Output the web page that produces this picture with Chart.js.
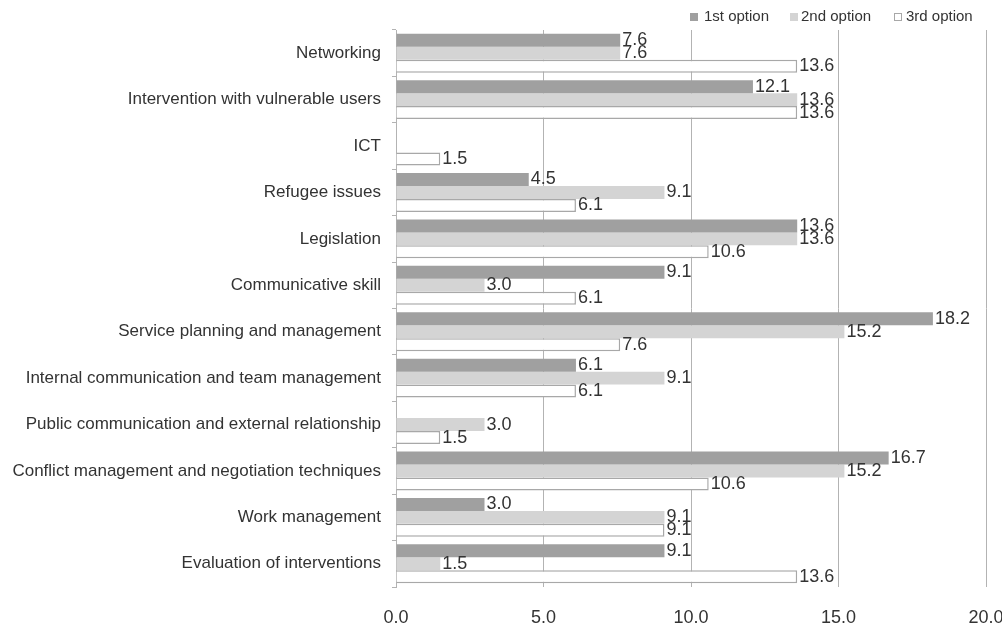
<!DOCTYPE html>
<html>
<head>
<meta charset="utf-8">
<script src="https://cdn.jsdelivr.net/npm/chart.js@4/dist/chart.umd.min.js"></script>
<style>
  html, body { margin: 0; padding: 0; background: #fff; }
  #wrap { width: 1002px; height: 626px; position: relative; }
</style>
</head>
<body>
<div id="wrap"><canvas id="c" width="1002" height="626"></canvas></div>
<script>
// Training areas ranked as 1st, 2nd and 3rd choice (percent of respondents)
const categories = [
  'Networking',
  'Intervention with vulnerable users',
  'ICT',
  'Refugee issues',
  'Legislation',
  'Communicative skill',
  'Service planning and management',
  'Internal communication and team management',
  'Public communication and external relationship',
  'Conflict management and negotiation techniques',
  'Work management',
  'Evaluation of interventions'
];
const firstOption  = [7.6, 12.1, 0,   4.5, 13.6, 9.1, 18.2, 6.1, 0,   16.7, 3.0, 9.1];
const secondOption = [7.6, 13.6, 0,   9.1, 13.6, 3.0, 15.2, 9.1, 3.0, 15.2, 9.1, 1.5];
const thirdOption  = [13.6, 13.6, 1.5, 6.1, 10.6, 6.1, 7.6, 6.1, 1.5, 10.6, 9.1, 13.6];
const seriesNames = ['1st option', '2nd option', '3rd option'];
const xTicks = [0, 5, 10, 15, 20];

const FONT = '"Liberation Sans", Arial, sans-serif';
const TEXT = '#333333';
const GRID = '#b3b3b3';

// Writes each non-zero value just past the end of its bar
const valueLabels = {
  id: 'valueLabels',
  afterDatasetsDraw(chart) {
    const ctx = chart.ctx;
    ctx.save();
    ctx.font = '18px ' + FONT;
    ctx.fillStyle = TEXT;
    ctx.textAlign = 'left';
    ctx.textBaseline = 'middle';
    chart.data.datasets.forEach((ds, i) => {
      const meta = chart.getDatasetMeta(i);
      meta.data.forEach((bar, j) => {
        const v = ds.data[j];
        if (!v) return;
        ctx.fillText(v.toFixed(1), bar.x + 2, bar.y);
      });
    });
    ctx.restore();
  }
};

// Compact legend in the top-right corner
const legendSpots = [{ box: 690, text: 704 }, { box: 790, text: 801 }, { box: 894, text: 906 }];
const cornerLegend = {
  id: 'cornerLegend',
  afterDraw(chart) {
    const ctx = chart.ctx;
    ctx.save();
    ctx.font = '15px ' + FONT;
    ctx.textAlign = 'left';
    ctx.textBaseline = 'middle';
    chart.data.datasets.forEach((ds, i) => {
      const spot = legendSpots[i];
      ctx.fillStyle = ds.backgroundColor;
      ctx.fillRect(spot.box, 13, 7, 7);
      ctx.lineWidth = 1;
      ctx.strokeStyle = ds.borderWidth ? ds.borderColor : ds.backgroundColor;
      ctx.strokeRect(spot.box + 0.5, 13.5, 7, 7);
      ctx.fillStyle = TEXT;
      ctx.fillText(ds.label, spot.text, 17);
    });
    ctx.restore();
  }
};

new Chart(document.getElementById('c'), {
  type: 'bar',
  data: {
    labels: categories,
    datasets: [
      { label: seriesNames[0], data: firstOption,  backgroundColor: '#a0a0a0', borderWidth: 0 },
      { label: seriesNames[1], data: secondOption, backgroundColor: '#d4d4d4', borderWidth: 0 },
      { label: seriesNames[2], data: thirdOption,  backgroundColor: '#ffffff', borderColor: '#a8a8a8', borderWidth: 1.5 }
    ]
  },
  options: {
    indexAxis: 'y',
    responsive: false,
    animation: false,
    devicePixelRatio: 1,
    layout: { padding: { top: 30, right: 0, bottom: 0, left: 0 } },
    datasets: { bar: { categoryPercentage: 0.84, barPercentage: 1.0 } },
    plugins: {
      tooltip: { enabled: false },
      legend: { display: false }
    },
    scales: {
      x: {
        min: 0,
        max: 20,
        afterBuildTicks(scale) { scale.ticks = xTicks.map(v => ({ value: v })); },
        afterFit(scale) { scale.height = 39; scale.paddingRight = 16; scale.paddingLeft = 0; },
        grid: { color: GRID, lineWidth: 1, drawTicks: false },
        border: { display: false },
        ticks: {
          padding: 20,
          color: TEXT,
          font: { family: FONT, size: 18 },
          maxRotation: 0,
          callback: v => Number(v).toFixed(1)
        }
      },
      y: {
        afterFit(scale) { scale.width = 396; },
        grid: { display: true, drawOnChartArea: false, drawTicks: true, tickLength: 4, color: GRID, offset: true },
        border: { display: true, color: GRID, width: 1 },
        ticks: {
          padding: 11,
          color: TEXT,
          font: { family: FONT, size: 17 },
          autoSkip: false
        }
      }
    }
  },
  plugins: [valueLabels, cornerLegend]
});
</script>
</body>
</html>
